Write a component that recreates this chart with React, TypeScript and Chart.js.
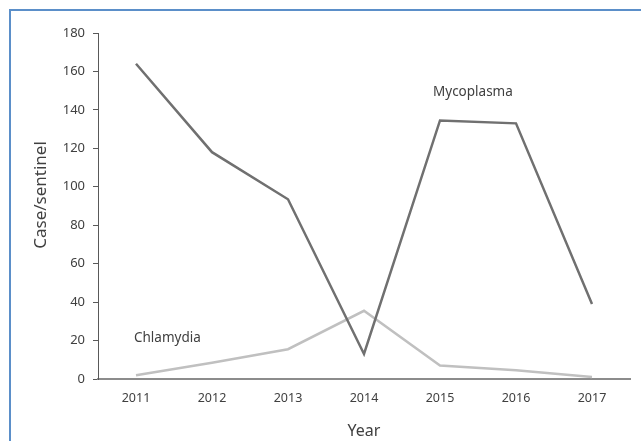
import React, { useEffect, useRef } from "react";
import { Chart, registerables } from "chart.js";

Chart.register(...registerables);

const years = ["2011", "2012", "2013", "2014", "2015", "2016", "2017"];
const mycoplasma = [164, 118, 93.5, 13, 134.5, 133, 39];
const chlamydia = [2, 8.5, 15.5, 35.5, 7, 4.5, 1];
const yTicks = [0, 20, 40, 60, 80, 100, 120, 140, 160, 180];
const yTitle = "Case/sentinel";
const xTitle = "Year";
const seriesLabels = [
  { text: "Mycoplasma", index: 4, value: 134.5, dx: -7, dy: -28, align: "left" },
  { text: "Chlamydia", index: 0, value: 2, dx: -2, dy: -37, align: "left" },
];

const FONT = "'Noto Sans', 'Open Sans', sans-serif";

export default function App() {
  const ref = useRef<HTMLCanvasElement | null>(null);
  useEffect(() => {
    if (!ref.current) return;
    const framePlugin = {
      id: "frame",
      beforeDraw(chart: any) {
        const ctx = chart.ctx;
        ctx.save();
        ctx.strokeStyle = "#5b8fc9";
        ctx.lineWidth = 2;
        ctx.beginPath();
        ctx.moveTo(10, chart.height);
        ctx.lineTo(10, 10);
        ctx.lineTo(chart.width, 10);
        ctx.stroke();
        ctx.restore();
      },
      afterDatasetsDraw(chart: any) {
        const ctx = chart.ctx;
        const xs = chart.scales.x;
        const ys = chart.scales.y;
        ctx.save();
        ctx.fillStyle = "#404040";
        ctx.font = `13.5px ${FONT}`;
        ctx.textBaseline = "middle";
        seriesLabels.forEach((l) => {
          ctx.textAlign = l.align;
          ctx.fillText(l.text, xs.getPixelForValue(l.index) + l.dx, ys.getPixelForValue(l.value) + l.dy);
        });
        // y axis title
        ctx.translate(41, (ys.top + ys.bottom) / 2 - 11);
        ctx.rotate(-Math.PI / 2);
        ctx.font = `17px ${FONT}`;
        ctx.textAlign = "center";
        ctx.fillText(yTitle, 0, 0);
        ctx.restore();
      },
    };
    const chart = new Chart(ref.current, {
      type: "line",
      data: {
        labels: years,
        datasets: [
          {
            label: "Mycoplasma",
            data: mycoplasma,
            borderColor: "#707070",
            borderWidth: 2.5,
            pointRadius: 0,
            tension: 0,
          },
          {
            label: "Chlamydia",
            data: chlamydia,
            borderColor: "#c0c0c0",
            borderWidth: 2.5,
            pointRadius: 0,
            tension: 0,
          },
        ],
      },
      options: {
        animation: false,
        responsive: false,
        layout: { padding: { left: 10, right: 11, top: 33, bottom: 0 } },
        plugins: { legend: { display: false }, tooltip: { enabled: false } },
        scales: {
          x: {
            offset: true,
            grid: { display: false, drawTicks: false },
            border: { color: "#8c8c8c", width: 2 },
            ticks: { color: "#404040", font: { size: 12.5, family: FONT }, padding: 12 },
            title: {
              display: true,
              text: xTitle,
              color: "#404040",
              font: { size: 16, family: FONT },
              padding: { top: 6, bottom: 0 },
            },
            afterFit: (s: any) => {
              s.height = 62;
            },
          },
          y: {
            min: 0,
            max: 180,
            afterBuildTicks: (s: any) => {
              s.ticks = yTicks.map((v) => ({ value: v }));
            },
            grid: { display: true, drawOnChartArea: false, tickLength: 5, color: "#595959" },
            border: { color: "#595959", width: 1 },
            ticks: { color: "#404040", font: { size: 13, family: FONT }, padding: 8 },
            afterFit: (s: any) => {
              s.width = 88;
            },
          },
        },
      },
      plugins: [framePlugin],
    });
    return () => chart.destroy();
  }, []);
  return (
    <div style={{ position: "fixed", left: 0, top: 0, width: 641, height: 441, background: "#fff" }}>
      <canvas ref={ref} width={641} height={441} style={{ display: "block" }} />
    </div>
  );
}
